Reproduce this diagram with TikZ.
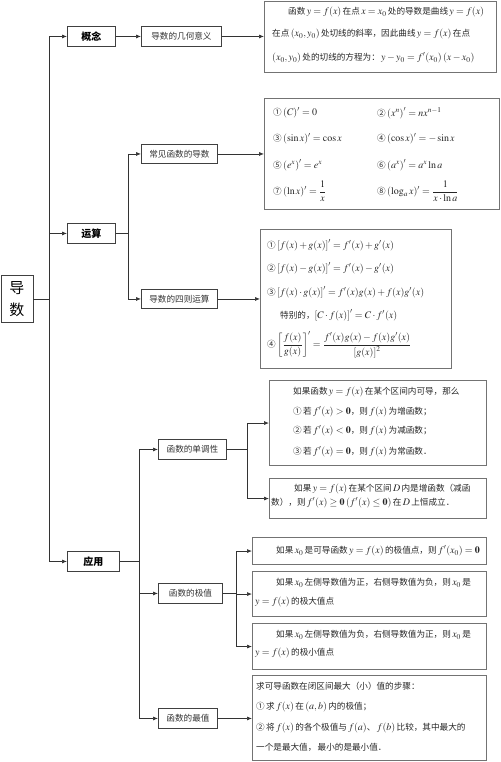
\documentclass[tikz,border=0pt]{standalone}
\usepackage{amsmath}
\usepackage{mathptmx}
\usepackage[no-math]{fontspec}
\setmainfont{Noto Sans CJK SC}[Scale=0.86, WordSpace=0.7]
\usetikzlibrary{arrows.meta}
\tikzset{
 sbox/.style={draw=black!75, line width=0.9pt, fill=white, inner sep=0pt, anchor=north west, font=\fontsize{10}{11}\selectfont, text=black!80},
 kbox/.style={sbox, font=\fontsize{11.6}{13}\selectfont\bfseries, text=black},
 bbox/.style={draw=black!55, line width=1.1pt, inner sep=0pt, anchor=north west},
 txt/.style={anchor=west, inner sep=0pt, font=\fontsize{10}{12}\selectfont, text=black!85},
 conn/.style={draw=black!80, line width=0.7pt},
 arr/.style={conn, -{Latex[length=5pt,width=4pt]}},
}
\begin{document}
\begin{tikzpicture}[x=1pt,y=-1pt]
\useasboundingbox (0,0) rectangle (500,762);
% big boxes
\node[bbox, minimum width=232pt, minimum height=71pt] (B1) at (264,1) {};
\node[bbox, minimum width=235pt, minimum height=111pt] (B2) at (264,98) {};
\node[bbox, minimum width=191pt, minimum height=139pt] (B3) at (260,229) {};
\node[bbox, minimum width=217pt, minimum height=85pt] (M1) at (269,380) {};
\node[bbox, minimum width=217pt, minimum height=40pt] (M2) at (269,478) {};
\node[bbox, minimum width=234pt, minimum height=27pt] (E1) at (252,537) {};
\node[bbox, minimum width=234pt, minimum height=45pt] (E2) at (252,571) {};
\node[bbox, minimum width=234pt, minimum height=46pt] (E3) at (252,623) {};
\node[bbox, minimum width=234pt, minimum height=85pt] (Z) at (252,675) {};
% texts of B1
\node[txt] (B1a) at (288,12) {函数 $y=f(x)$ 在点 $x=x_0$ 处的导数是曲线 $y=f(x)$};
\node[txt] (B1b) at (272,34) {在点 $(x_0,y_0)$ 处切线的斜率，因此曲线 $y=f(x)$ 在点};
\node[txt] (B1c) at (272,58) {$(x_0,y_0)$ 处的切线的方程为：\ $y-y_0=f'(x_0)\ (x-x_0)$};
% B2
\node[txt] (c1) at (273,113) {① $(C)'=0$};
\node[txt] (c2) at (377,113) {② $\left(x^n\right)'=nx^{n-1}$};
\node[txt] (c3) at (273,139) {③ $(\sin x)'=\cos x$};
\node[txt] (c4) at (377,139) {④ $(\cos x)'=-\sin x$};
\node[txt] (c5) at (273,165) {⑤ $\left(e^x\right)'=e^x$};
\node[txt] (c6) at (377,165) {⑥ $\left(a^x\right)'=a^x\ln a$};
\node[txt] (c7) at (273,191) {⑦ $(\ln x)'=\dfrac{1}{x}$};
\node[txt] (c8) at (377,191) {⑧ $(\log_a x)'=\dfrac{1}{x\cdot\ln a}$};
% B3
\node[txt] (s1) at (267,245) {① $\left[f(x)+g(x)\right]'=f'(x)+g'(x)$};
\node[txt] (s2) at (267,268) {② $\left[f(x)-g(x)\right]'=f'(x)-g'(x)$};
\node[txt] (s3) at (267,292) {③ $\left[f(x)\cdot g(x)\right]'=f'(x)g(x)+f(x)g'(x)$};
\node[txt] (s4) at (280,315) {特别的，$\left[C\cdot f(x)\right]'=C\cdot f'(x)$};
\node[txt] (s5) at (267,345) {④ $\left[\dfrac{f(x)}{g(x)}\right]'=\dfrac{f'(x)g(x)-f(x)g'(x)}{\left[g(x)\right]^2}$};
% M1
\node[txt] (m1) at (293,392) {如果函数 $y=f(x)$ 在某个区间内可导，那么};
\node[txt] (m2) at (293,412) {① 若 $f'(x)>\mathbf{0}$，则 $f(x)$ 为增函数；};
\node[txt] (m3) at (293,431) {② 若 $f'(x)<\mathbf{0}$，则 $f(x)$ 为减函数；};
\node[txt] (m4) at (293,452) {③ 若 $f'(x)=\mathbf{0}$，则 $f(x)$ 为常函数．};
% M2
\node[txt] (n1) at (294,489) {如果 $y=f(x)$ 在某个区间 $\boldsymbol{D}$ 内是增函数（减函};
\node[txt] (n2) at (271,503) {数），则 $f'(x)\geq\mathbf{0}$ $\left(f'(x)\leq\mathbf{0}\right)$ 在 $\boldsymbol{D}$ 上恒成立．};
% E boxes
\node[txt] (e1) at (276,551) {如果 $x_0$ 是可导函数 $y=f(x)$ 的极值点，则 $f'(x_0)=\mathbf{0}$};
\node[txt] (e2a) at (276,583) {如果 $x_0$ 左侧导数值为正，右侧导数值为负，则 $x_0$ 是};
\node[txt] (e2b) at (255,602) {$y=f(x)$ 的极大值点};
\node[txt] (e3a) at (276,635) {如果 $x_0$ 左侧导数值为负，右侧导数值为正，则 $x_0$ 是};
\node[txt] (e3b) at (255,653) {$y=f(x)$ 的极小值点};
% Z
\node[txt] (z1) at (256,686) {求可导函数在闭区间最大（小）值的步骤：};
\node[txt] (z2) at (256,707) {① 求 $f(x)$ 在 $(a,b)$ 内的极值；};
\node[txt] (z3) at (256,728) {② 将 $f(x)$ 的各个极值与 $f(a)$、 $f(b)$ 比较，其中最大的};
\node[txt] (z4) at (256,747) {一个是最大值，\ 最小的是最小值．};
% small boxes
\node[sbox, minimum width=32pt, minimum height=47pt, font=\fontsize{17.4}{22}\selectfont, text=black, align=center] (root) at (0.5,275) {导\\数};
\node[kbox, minimum width=48pt, minimum height=20pt] (gn) at (67,26) {概念};
\node[sbox, minimum width=80pt, minimum height=20pt] (gm) at (141,26) {导数的几何意义};
\node[kbox, minimum width=48pt, minimum height=20pt] (ys) at (67,223) {运算};
\node[sbox, minimum width=76pt, minimum height=19pt] (cj) at (141,144) {常见函数的导数};
\node[sbox, minimum width=76pt, minimum height=19pt] (sz) at (141,289) {导数的四则运算};
\node[kbox, minimum width=52pt, minimum height=20pt] (yy) at (67,551) {应用};
\node[sbox, minimum width=68pt, minimum height=20pt] (dd) at (158,439) {函数的单调性};
\node[sbox, minimum width=64pt, minimum height=20pt] (jz) at (158,583) {函数的极值};
\node[sbox, minimum width=59pt, minimum height=20pt] (zz) at (158,708) {函数的最值};
% connectors
\coordinate (sp) at (49,298);
\draw[conn] (root.east) -- (root.east -| sp);
\draw[conn] (sp |- gn.west) -- (sp |- yy.west);
\draw[arr] (sp |- gn.west) -- (gn.west);
\draw[arr] (sp |- ys.west) -- (ys.west);
\draw[arr] (sp |- yy.west) -- (yy.west);
\draw[arr] (gn.east) -- (gm.west);
\draw[arr] (gm.east) -- (gm.east -| B1.west);
\coordinate (b2) at (128,0);
\draw[conn] (ys.east) -- (ys.east -| b2);
\draw[conn] (b2 |- cj.west) -- (b2 |- sz.west);
\draw[arr] (b2 |- cj.west) -- (cj.west);
\draw[arr] (b2 |- sz.west) -- (sz.west);
\draw[arr] (cj.east) -- (cj.east -| B2.west);
\draw[arr] (sz.east) -- (sz.east -| B3.west);
\coordinate (b3) at (139,0);
\draw[conn] (yy.east) -- (yy.east -| b3);
\draw[conn] (b3 |- dd.west) -- (b3 |- zz.west);
\draw[arr] (b3 |- dd.west) -- (dd.west);
\draw[arr] (b3 |- jz.west) -- (jz.west);
\draw[arr] (b3 |- zz.west) -- (zz.west);
\coordinate (b4) at (247,0);
\draw[conn] (dd.east) -- (dd.east -| b4);
\draw[conn] (b4 |- M1.west) -- (b4 |- M2.west);
\draw[arr] (b4 |- M1.west) -- (M1.west);
\draw[arr] (b4 |- M2.west) -- (M2.west);
\coordinate (b5) at (236,0);
\draw[conn] (jz.east) -- (jz.east -| b5);
\draw[conn] (b5 |- E1.west) -- (b5 |- E3.west);
\draw[arr] (b5 |- E1.west) -- (E1.west);
\draw[arr] (b5 |- E2.west) -- (E2.west);
\draw[arr] (b5 |- E3.west) -- (E3.west);
\draw[arr] (zz.east) -- (zz.east -| Z.west);
\end{tikzpicture}
\end{document}
